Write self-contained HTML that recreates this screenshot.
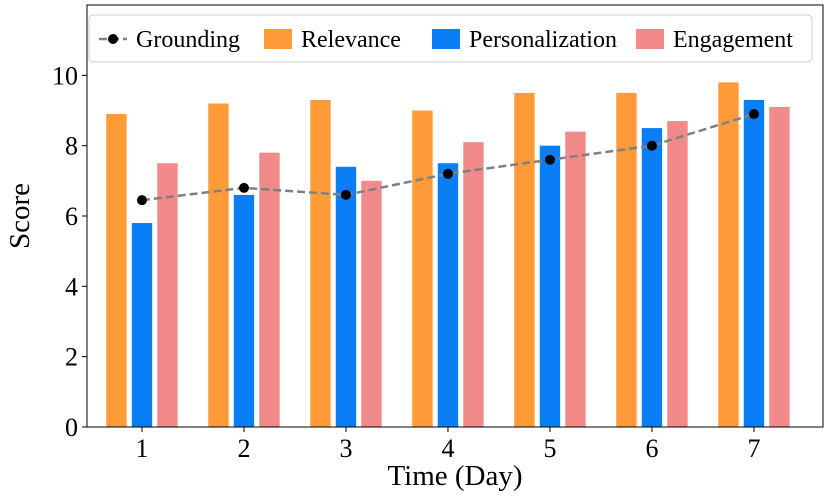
<!DOCTYPE html>
<html><head><meta charset="utf-8"><style>
body{margin:0;background:#fff}
svg text{font-family:"Liberation Serif",serif;fill:#000}
</style></head><body>
<svg id="chart" width="830" height="496"></svg>
<script>
const days = [1,2,3,4,5,6,7];
const relevance = [8.9,9.2,9.3,9.0,9.5,9.5,9.8];
const personalization = [5.8,6.6,7.4,7.5,8.0,8.5,9.3];
const engagement = [7.5,7.8,7.0,8.1,8.4,8.7,9.1];
const grounding = [6.45,6.8,6.6,7.2,7.6,8.0,8.9];
const yTicks = [0,2,4,6,8,10];

const NS="http://www.w3.org/2000/svg";
const svg=document.getElementById('chart');
const L=87,R=823,T=5,B=427;
const xMin=0.461,xMax=7.677,yMax=12;
const xs=v=>L+(v-xMin)/(xMax-xMin)*(R-L);
const ys=v=>B-v/yMax*(B-T);
function mk(tag,attrs,parent){const e=document.createElementNS(NS,tag);for(const k in attrs)e.setAttribute(k,attrs[k]);(parent||svg).appendChild(e);return e;}
const unit=(R-L)/(xMax-xMin);
const bw=0.2*unit, gap=0.25*unit;
const series=[[relevance,'#ff9b38',-1,'relevance'],[personalization,'#0a7ff5',0,'personalization'],[engagement,'#f28a8a',1,'engagement']];
series.forEach(([vals,col,off,nm])=>{
  vals.forEach((v,i)=>{
    const cx=xs(days[i])+off*gap;
    const r=mk('rect',{x:cx-bw/2,y:ys(v),width:bw,height:B-ys(v),fill:col});
    
    
  });
});
const pts=grounding.map((v,i)=>xs(days[i])+','+ys(v)).join(' ');
const pl=mk('polyline',{points:pts,fill:'none',stroke:'#808080','stroke-width':2.5,'stroke-dasharray':'8,4'});


grounding.forEach((v,i)=>{
  const c=mk('circle',{cx:xs(days[i]),cy:ys(v),r:5,fill:'#000'});
  
  
});
const frame=mk('rect',{x:L,y:T,width:R-L,height:B-T,fill:'none',stroke:'#000','stroke-width':1});


yTicks.forEach(t=>{
  mk('line',{x1:L-5,x2:L,y1:ys(t),y2:ys(t),stroke:'#000'});
  const tx=mk('text',{x:L-9,y:ys(t)+9,'text-anchor':'end','font-size':26});
  tx.textContent=t;
  
  
});
days.forEach(d=>{
  mk('line',{x1:xs(d),x2:xs(d),y1:B,y2:B+5,stroke:'#000'});
  const tx=mk('text',{x:xs(d),y:B+30,'text-anchor':'middle','font-size':26});
  tx.textContent=d;
  
  
});
const xl=mk('text',{x:(L+R)/2,y:485,'text-anchor':'middle','font-size':29});
xl.textContent='Time (Day)';


const yl=mk('text',{x:0,y:0,'text-anchor':'middle','font-size':29,transform:'translate(29,'+((T+B)/2)+') rotate(-90)'});
yl.textContent='Score';


// legend
const lg=mk('g',{});


mk('rect',{x:89,y:15,width:723,height:47,rx:4,fill:'#fff',stroke:'#ccc'},lg);
mk('line',{x1:99,x2:127,y1:39,y2:39,stroke:'#808080','stroke-width':2.5,'stroke-dasharray':'8,4'},lg);
mk('circle',{cx:113,cy:39,r:5,fill:'#000'},lg);
const items=[['Grounding',null,136],['Relevance','#ff9b38',301],['Personalization','#0a7ff5',469],['Engagement','#f28a8a',673]];
items.forEach(([name,col,x])=>{
  if(col) mk('rect',{x:x-37,y:29,width:28,height:20,fill:col},lg);
  const t=mk('text',{x:x,y:47,'font-size':24},lg);
  t.textContent=name;
  
  
});
</script>
</body></html>
